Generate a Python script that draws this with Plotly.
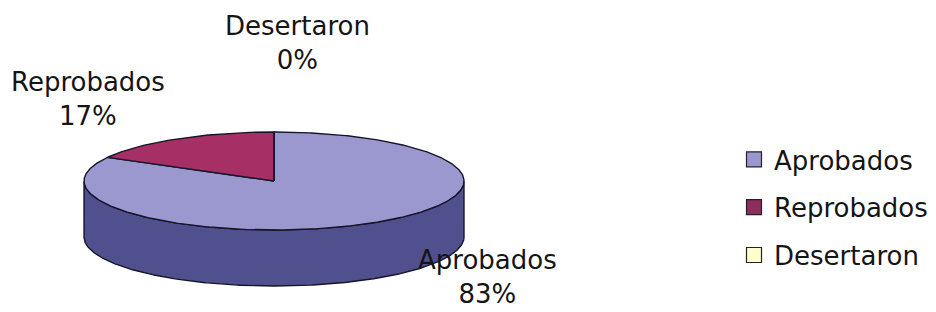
import numpy as np
import plotly.graph_objects as go

# ---- data ----
categories = ["Aprobados", "Reprobados", "Desertaron"]
values = [83, 17, 0]
top_colors = ["#9b98d0", "#a62f66", "#ffffcc"]
side_colors = ["#50508f", "#6e1f42", "#cccc99"]
legend_colors = ["#9b98d0", "#8e2d5c", "#ffffcc"]

# page is rendered with an 8px body margin; use page-pixel coordinates
OFF = 8
W, H = 936 - OFF, 312 - OFF
FONT = "DejaVu Sans"
FS = 26

# pie geometry (page pixel units on hidden axes)
cx, cy, rx, ry, depth = 274, 181, 190, 49, 56

total = float(sum(values))
fracs = [v / total for v in values]
pct = [f"{round(f * 100):.0f}%" for f in fracs]

# Excel-style: start at 12 o'clock and sweep clockwise
start = 90.0
slices = []
ang = start
for f in fracs:
    a0 = ang
    a1 = ang - 360.0 * f
    slices.append((a0, a1))
    ang = a1


def ell(t_deg, dy=0.0):
    t = np.radians(t_deg)
    return cx + rx * np.cos(t), cy - ry * np.sin(t) + dy


fig = go.Figure()
EDGE = dict(color="#15152a", width=1.4)

# side faces: visible front is where t in [180, 360] (mod 360)
for i, (a0, a1) in enumerate(slices):
    if values[i] == 0:
        continue
    t = np.linspace(a0, a1, 500)
    tm = np.mod(t, 360)
    mask = (tm >= 180) & (tm <= 360)
    if not mask.any():
        continue
    ts = t[mask]
    xt, yt = ell(ts)
    xb, yb = ell(ts[::-1], depth)
    xs = np.concatenate([xt, xb, xt[:1]])
    ys = np.concatenate([yt, yb, yt[:1]])
    fig.add_trace(go.Scatter(x=xs, y=ys, mode="lines", fill="toself",
                             fillcolor=side_colors[i], line=EDGE,
                             hoverinfo="skip", showlegend=False))

# top faces
for i, (a0, a1) in enumerate(slices):
    t = np.linspace(a0, a1, 500)
    xe, ye = ell(t)
    xs = np.concatenate([[cx], xe, [cx]])
    ys = np.concatenate([[cy], ye, [cy]])
    fig.add_trace(go.Scatter(x=xs, y=ys, mode="lines", fill="toself",
                             fillcolor=top_colors[i], line=EDGE,
                             hoverinfo="skip", showlegend=False))

# legend entries
for i, c in enumerate(categories):
    fig.add_trace(go.Scatter(x=[None], y=[None], mode="markers", name=c,
                             legendgroup=c,
                             marker=dict(symbol="square", size=15,
                                         color=legend_colors[i],
                                         line=dict(color="#222", width=1.2))))

# data labels
label_pos = {"Aprobados": (487, 277), "Reprobados": (88, 99), "Desertaron": (297, 43)}
for i, c in enumerate(categories):
    x, y = label_pos[c]
    fig.add_annotation(x=x, y=y, xref="x", yref="y", showarrow=False,
                       text=f"{c}<br>{pct[i]}", align="center",
                       font=dict(family=FONT, size=FS, color="#151515"))

fig.update_layout(
    width=W, height=H,
    margin=dict(l=0, r=0, t=0, b=0),
    paper_bgcolor="white", plot_bgcolor="white",
    xaxis=dict(range=[OFF, OFF + W], visible=False, fixedrange=True),
    yaxis=dict(range=[OFF + H, OFF], visible=False, fixedrange=True),
    showlegend=True,
    legend=dict(x=(734 - OFF) / W, y=1 - (136 - OFF) / H,
                xanchor="left", yanchor="top",
                font=dict(family=FONT, size=FS, color="#151515"),
                traceorder="grouped", tracegroupgap=11,
                bgcolor="rgba(0,0,0,0)", itemclick=False, itemdoubleclick=False),
)

fig.write_html("out.html")
